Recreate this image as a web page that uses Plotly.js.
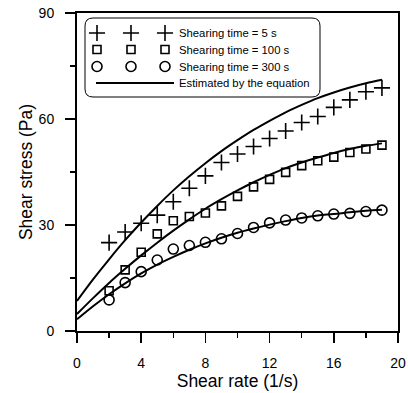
<!DOCTYPE html>
<html>
<head>
<meta charset="utf-8">
<script src="https://cdn.plot.ly/plotly-3.0.1.min.js"></script>
<style>html,body{margin:0;padding:0;background:#fff;}#chart{width:408px;height:393px;}</style>
</head>
<body>
<div id="chart"></div>
<script>
// Measured shear rate (1/s)
const shearRate = [2,3,4,5,6,7,8,9,10,11,12,13,14,15,16,17,18,19];
// Measured shear stress (Pa)
const stress5s   = [25,28,30.5,32.8,36.6,40.4,43.9,47.7,50.1,52.2,54.5,56.6,59,60.7,63.3,65.4,67.7,68.8];
const stress100s = [11.4,17.3,22.3,27.5,31.2,32.4,33.4,35.4,38.1,40.8,42.9,44.9,46.8,48.2,49.2,50.5,51.5,52.6];
const stress300s = [8.8,13.7,16.8,20.1,23.2,24.2,25.1,26.1,27.6,29.3,30.6,31.4,32,32.6,33.1,33.3,33.8,34.2];
// Estimated curves
const eqRate    = [0,1,2,3,4,5,6,7,8,9,10,11,12,13,14,15,16,17,18,19];
const eq5s      = [8.5,14.6,20.3,25.7,30.7,35.4,39.8,43.8,47.5,50.9,54,56.9,59.5,61.9,64,65.9,67.5,68.9,70.1,71.1];
const eq100s    = [4.8,9.3,13.6,17.6,21.4,25,28.4,31.6,34.6,37.3,39.8,42.1,44.2,46.1,47.7,49.1,50.4,51.5,52.4,53.1];
const eq300s    = [3.3,7,10.4,13.5,16.3,18.8,21,23,24.8,26.4,27.8,29,30.1,31.1,32,32.7,33.1,33.6,34,34.3];
const seriesNames = ['Shearing time = 5 s','Shearing time = 100 s','Shearing time = 300 s','Estimated by the equation'];
const xTicks = [0,4,8,12,16,20];
const yTicks = [0,30,60,90];

const FONT = 'Liberation Sans, Arial, sans-serif';
const W = 321, H = 318, LEFT = 77, BOTTOM = 331;
const pxX = p => (p - LEFT) / W;          // pixel -> paper x
const pxY = p => (BOTTOM - p) / H;        // pixel -> paper y

// legend layout (pixels)
const rowY = [33, 49.5, 66.5, 83];
const textX = 180;
const markW = 86, lineW = 78;
const markLeft = textX - markW - 11, lineLeft = textX - lineW - 11;
const midMarker = markLeft + (markW + 10) / 2 + 1;
const sideOffsets = [-34, 34];

const markerStyles = [
  {symbol: 'cross-thin-open', size: 11.5},
  {symbol: 'square-open', size: 8},
  {symbol: 'circle-open', size: 10}
];
const mk = i => ({symbol: markerStyles[i].symbol, size: markerStyles[i].size, color: '#000', line: {color: '#000', width: 1.6}});

const legends = {};
let legendCount = 0;
function addLegend(leftPx, row, itemW) {
  legendCount++;
  const id = legendCount === 1 ? 'legend' : 'legend' + legendCount;
  legends[id] = {
    x: pxX(leftPx), y: pxY(rowY[row]), xanchor: 'left', yanchor: 'middle',
    bgcolor: 'rgba(0,0,0,0)', borderwidth: 0, itemwidth: itemW,
    font: {family: FONT, size: 11.3, color: '#000'}, tracegroupgap: 0
  };
  return id;
}

const data = [];
const curveYs = [eq5s, eq100s, eq300s];
const lineLegend = addLegend(lineLeft, 3, lineW);
curveYs.forEach((ys, i) => data.push({
  x: eqRate, y: ys, name: seriesNames[3], type: 'scatter', mode: 'lines',
  line: {color: '#000', width: 2, shape: 'spline'}, showlegend: i === 0, legend: lineLegend
}));
const stressYs = [stress5s, stress100s, stress300s];
stressYs.forEach((ys, i) => {
  data.push({x: shearRate, y: ys, name: seriesNames[i], type: 'scatter', mode: 'markers',
    marker: mk(i), legend: addLegend(markLeft, i, markW)});
  // extra legend keys (a single empty point, draws nothing) so each legend row shows three symbols like the original
  sideOffsets.forEach(off => data.push({x: [null], y: [null], name: ' ', type: 'scatter', mode: 'markers',
    marker: mk(i), hoverinfo: 'skip', showlegend: true, legend: addLegend(midMarker + off - 21, i, 30)}));
});

const bx0 = pxX(85), bx1 = pxX(320), by0 = pxY(97), by1 = pxY(18), rx = 8 / W, ry = 8 / H;
const boxPath = `M${bx0+rx},${by1} L${bx1-rx},${by1} Q${bx1},${by1} ${bx1},${by1-ry} L${bx1},${by0+ry} Q${bx1},${by0} ${bx1-rx},${by0} L${bx0+rx},${by0} Q${bx0},${by0} ${bx0},${by0+ry} L${bx0},${by1-ry} Q${bx0},${by1} ${bx0+rx},${by1} Z`;

const axisCommon = {
  showgrid: false, zeroline: false, showline: true, linecolor: '#000', linewidth: 2, mirror: true,
  ticks: 'outside', ticklen: 10, tickwidth: 1.5, tickcolor: '#000',
  tickfont: {family: FONT, size: 14, color: '#000'}
};
const layout = Object.assign({
  width: 408, height: 393,
  margin: {l: 77, r: 10, t: 13, b: 62},
  paper_bgcolor: '#fff', plot_bgcolor: '#fff',
  font: {family: FONT, color: '#000'},
  xaxis: Object.assign({}, axisCommon, {
    range: [0, 20], tickvals: xTicks, ticktext: xTicks.map(String), ticklabelstandoff: 8,
    minor: {dtick: 2, tick0: 0, ticks: 'outside', ticklen: 5, tickwidth: 1.5, tickcolor: '#000'},
    title: {text: 'Shear rate (1/s)', font: {family: FONT, size: 17.5}, standoff: 2}
  }),
  yaxis: Object.assign({}, axisCommon, {
    range: [0, 90], tickvals: yTicks, ticktext: yTicks.map(String), ticklabelstandoff: 8,
    minor: {dtick: 15, tick0: 0, ticks: 'outside', ticklen: 5, tickwidth: 1.5, tickcolor: '#000'},
    title: {text: 'Shear stress (Pa)', font: {family: FONT, size: 17.5}, standoff: 1}
  }),
  shapes: [{type: 'path', xref: 'paper', yref: 'paper', path: boxPath, line: {color: '#000', width: 1}, fillcolor: 'rgba(0,0,0,0)', layer: 'above'}],
  showlegend: true
}, legends);
Plotly.newPlot('chart', data, layout, {displayModeBar: false, staticPlot: true});
</script>
</body>
</html>
